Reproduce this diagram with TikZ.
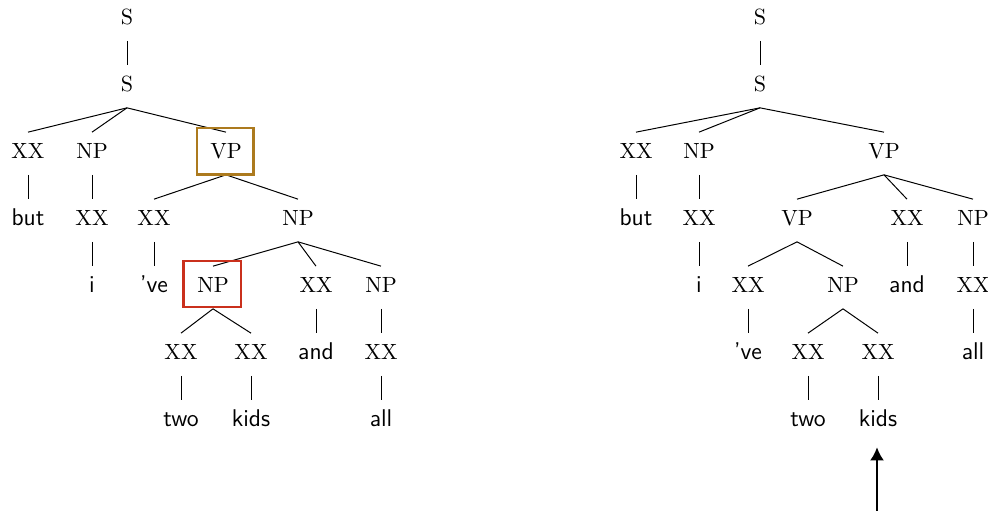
\documentclass[tikz,border=0pt]{standalone}
\usetikzlibrary{arrows.meta}
\definecolor{boxgold}{RGB}{172,122,30}
\definecolor{boxred}{RGB}{202,48,28}
\begin{document}
\begin{tikzpicture}[x=0.4545pt, y=-0.4545pt,
  lab/.style={font=\rmfamily, anchor=base, inner xsep=0pt, inner ysep=0pt, text height=12pt, text depth=7pt},
  leaf/.style={lab, font=\fontsize{11}{13}\selectfont\sffamily},
  edge/.style={line width=0.45pt},
  hlgold/.style={draw=boxgold, line width=1.15pt},
  hlred/.style={draw=boxred, line width=1.15pt},
  bigarrow/.style={line width=0.95pt, -{Latex[length=6pt,width=6.4pt]}}]
\useasboundingbox (0,0) rectangle (988,511);
% ---------- left tree ----------
\node[lab] (a0) at (127,25) {S};
\node[lab] (a1) at (127,92) {S};
\node[lab] (a2) at (28,159) {XX};
\node[lab] (a3) at (92,159) {NP};
\node[lab] (a4) at (226,159) {VP};
\node[leaf] (a5) at (28,226) {but};
\node[lab] (a6) at (92,226) {XX};
\node[lab] (a7) at (154,226) {XX};
\node[lab] (a8) at (298,226) {NP};
\node[leaf] (a9) at (92,293) {i};
\node[leaf] (a10) at (154,293) {'ve};
\node[lab] (a11) at (213,293) {NP};
\node[lab] (a12) at (316,293) {XX};
\node[lab] (a13) at (381,293) {NP};
\node[lab] (a14) at (181,360) {XX};
\node[lab] (a15) at (251,360) {XX};
\node[leaf] (a16) at (316,360) {and};
\node[lab] (a17) at (381,360) {XX};
\node[leaf] (a18) at (181,427) {two};
\node[leaf] (a19) at (251,427) {kids};
\node[leaf] (a20) at (381,427) {all};
\foreach \p/\c in {a0/a1, a1/a2, a1/a3, a1/a4, a2/a5, a3/a6, a4/a7, a4/a8,
  a6/a9, a7/a10, a8/a11, a8/a12, a8/a13, a11/a14, a11/a15, a12/a16, a13/a17,
  a14/a18, a15/a19, a17/a20}
  \draw[edge] (\p.south) -- (\c.north);
\draw[hlgold] (197,128) rectangle (253.5,174.5);
\draw[hlred] (183.5,261) rectangle (241,307);
% ---------- right tree ----------
\node[lab] (b0) at (760,25) {S};
\node[lab] (b1) at (760,92) {S};
\node[lab] (b2) at (636,159) {XX};
\node[lab] (b3) at (699,159) {NP};
\node[lab] (b4) at (884,159) {VP};
\node[leaf] (b5) at (636,226) {but};
\node[lab] (b6) at (699,226) {XX};
\node[lab] (b7) at (797,226) {VP};
\node[lab] (b8) at (907,226) {XX};
\node[lab] (b9) at (973,226) {NP};
\node[leaf] (b10) at (699,293) {i};
\node[lab] (b11) at (748,293) {XX};
\node[lab] (b12) at (843,293) {NP};
\node[leaf] (b13) at (907,293) {and};
\node[lab] (b14) at (973,293) {XX};
\node[leaf] (b15) at (748,360) {'ve};
\node[lab] (b16) at (808,360) {XX};
\node[lab] (b17) at (878,360) {XX};
\node[leaf] (b18) at (973,360) {all};
\node[leaf] (b19) at (808,427) {two};
\node[leaf] (b20) at (878,427) {kids};
\foreach \p/\c in {b0/b1, b1/b2, b1/b3, b1/b4, b2/b5, b3/b6, b4/b7, b4/b8, b4/b9,
  b6/b10, b7/b11, b7/b12, b8/b13, b9/b14, b11/b15, b12/b16, b12/b17, b14/b18,
  b16/b19, b17/b20}
  \draw[edge] (\p.south) -- (\c.north);
\coordinate (arrbase) at (877,512);
\draw[bigarrow, shorten >=2pt] (arrbase) -- (arrbase |- b20.south);
\end{tikzpicture}
\end{document}
